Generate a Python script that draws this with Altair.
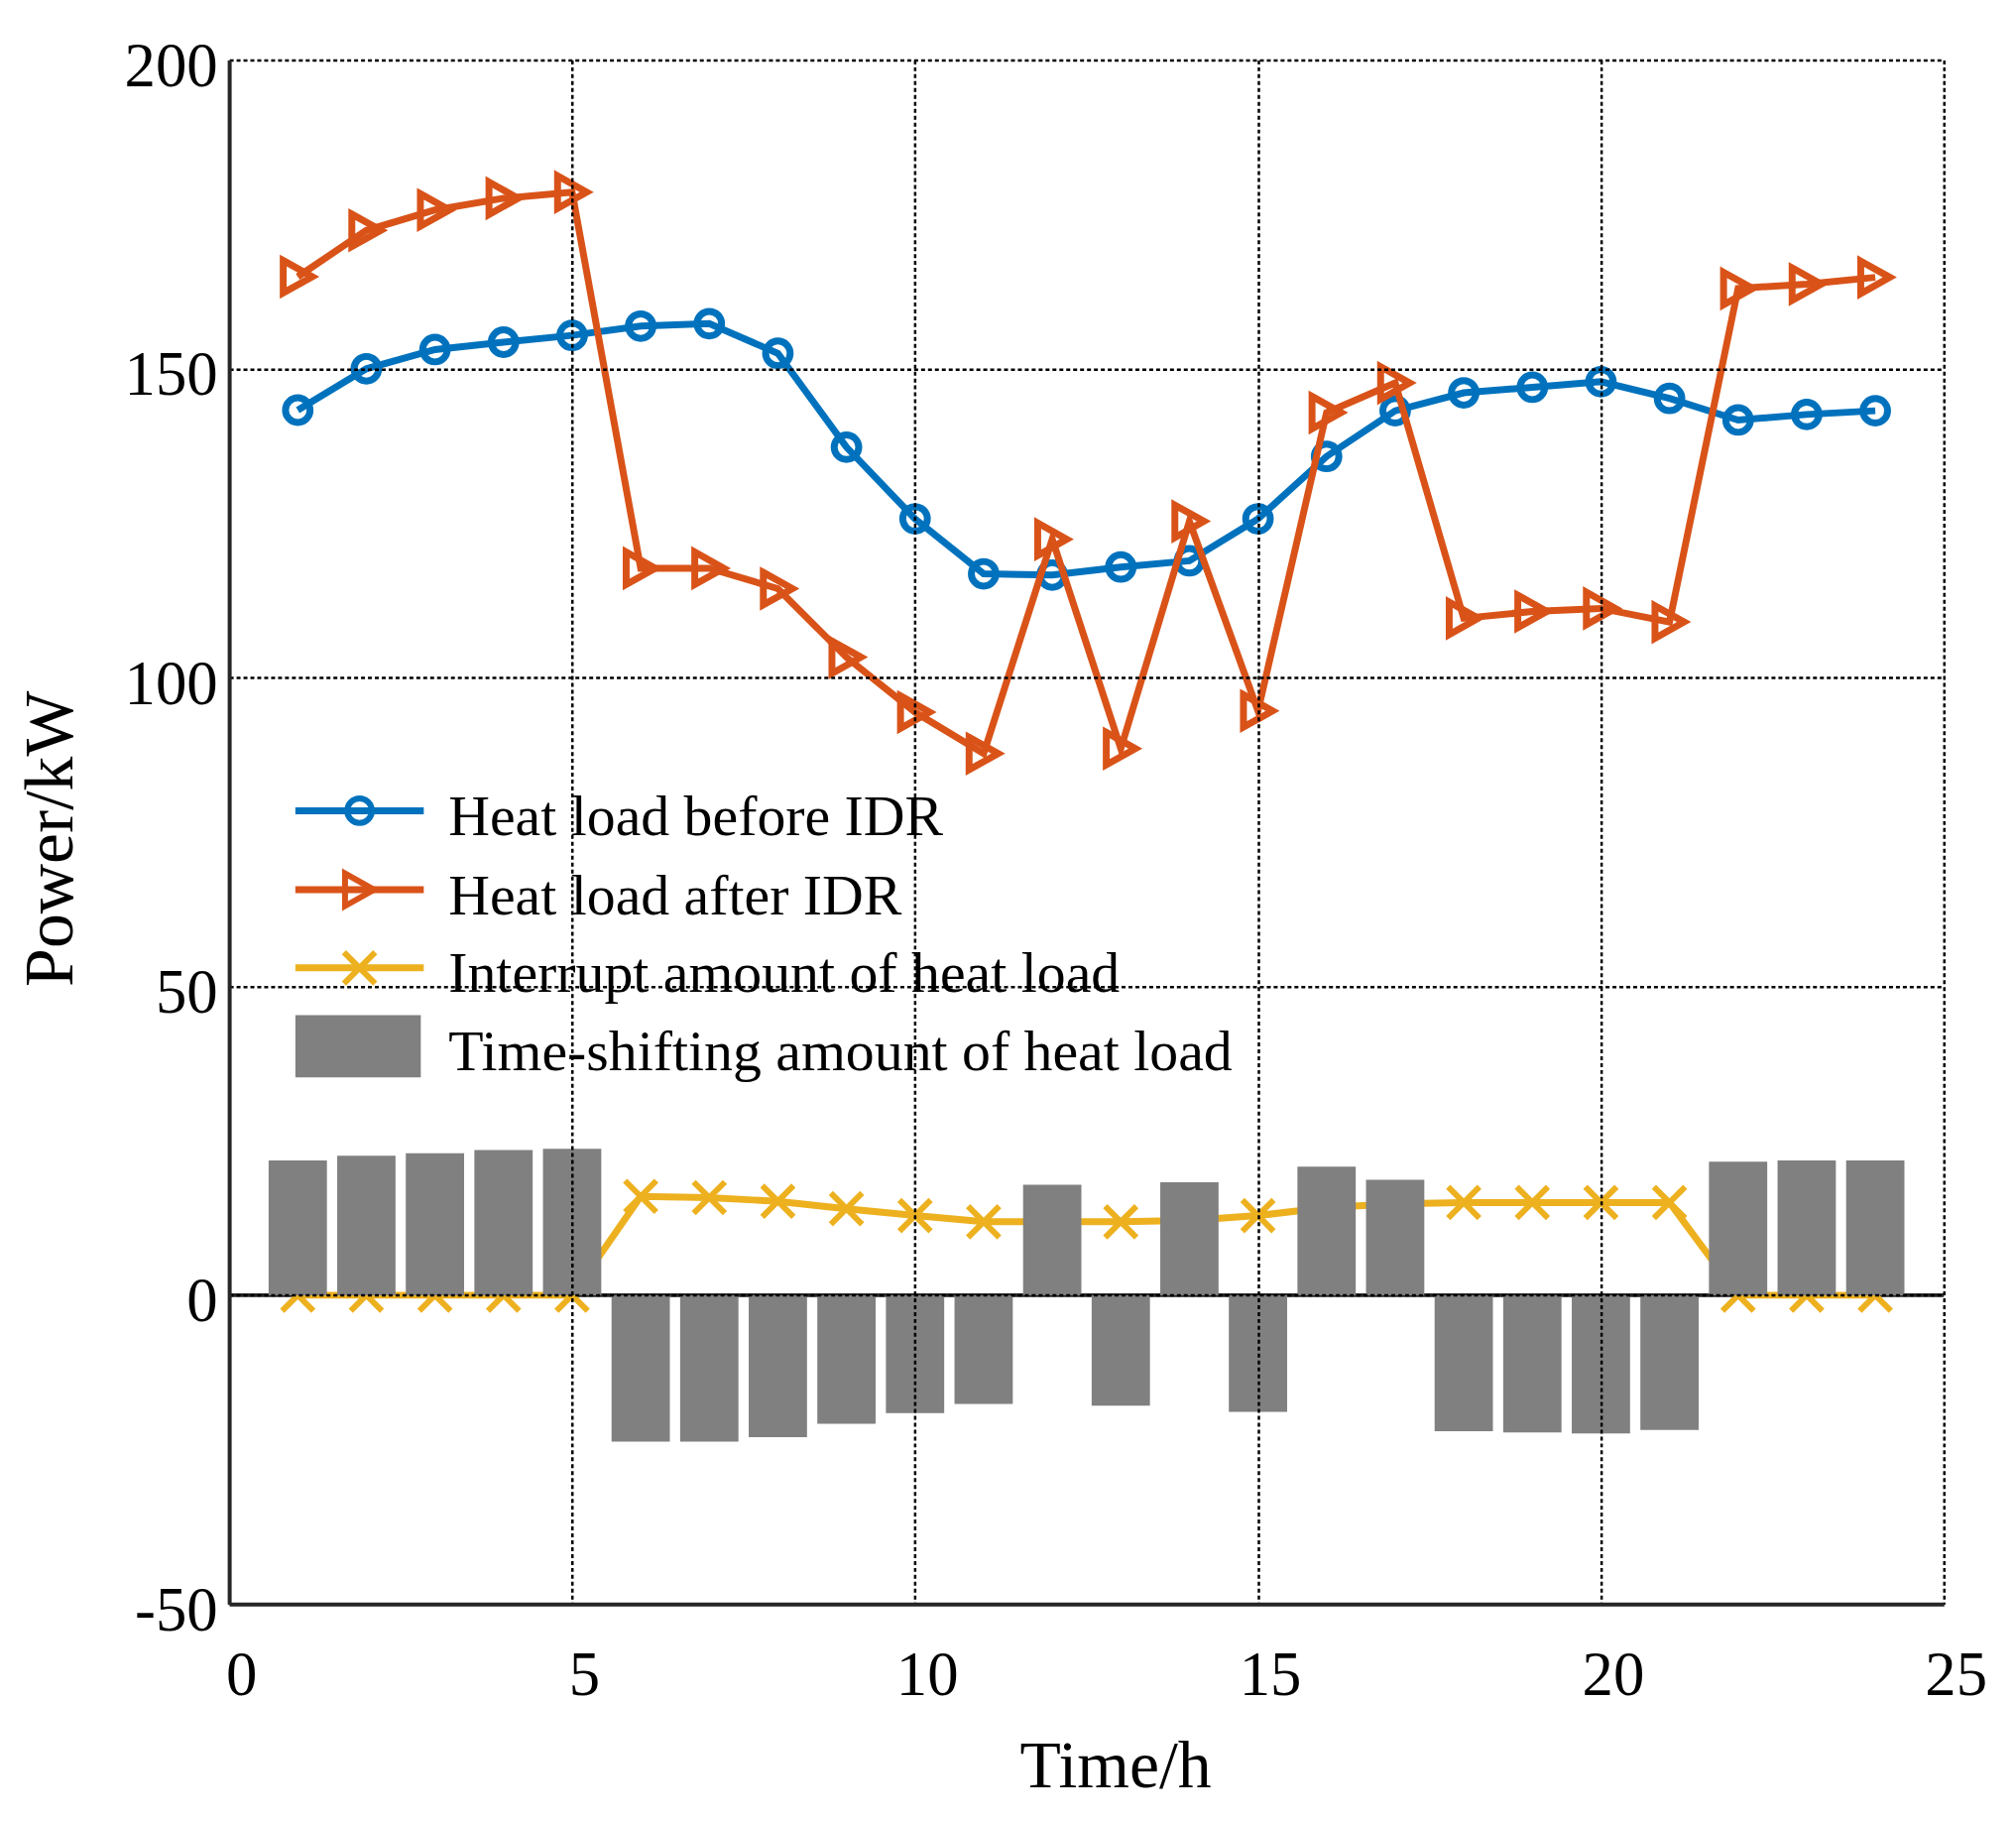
import altair as alt
import pandas as pd

# hourly values
hours = list(range(1, 25))
before_idr = [143.3, 150.0, 153.1, 154.3, 155.4, 156.9, 157.3, 152.5, 137.3, 125.7,
              116.8, 116.6, 117.9, 118.9, 125.7, 135.8, 143.2, 146.1, 147.0, 147.9,
              145.2, 141.7, 142.6, 143.2]
after_idr = [164.9, 172.4, 175.7, 177.6, 178.6, 117.7, 117.7, 114.4, 103.3, 94.4,
             87.7, 122.4, 88.5, 125.3, 94.6, 142.9, 147.7, 109.6, 110.7, 111.2,
             109.0, 163.0, 163.7, 164.8]
interrupt = [0, 0, 0, 0, 0, 16.0, 15.8, 15.2, 14.0, 12.9,
             11.9, 11.9, 11.9, 12.1, 12.9, 14.2, 14.8, 15.0, 15.0, 15.0,
             15.0, 0, 0, 0]
shifting = [21.8, 22.6, 23.0, 23.5, 23.7, -23.7, -23.7, -23.0, -20.8, -19.1,
            -17.6, 17.9, -17.9, 18.3, -18.9, 20.8, 18.7, -22.0, -22.2, -22.4,
            -21.8, 21.6, 21.8, 21.8]

legend_labels = ["Heat load before IDR", "Heat load after IDR",
                 "Interrupt amount of heat load", "Time-shifting amount of heat load"]

x_ticks = [0, 5, 10, 15, 20, 25]
y_ticks = [-50, 0, 50, 100, 150, 200]

BLUE = "#0072BD"
ORANGE = "#D95319"
YELLOW = "#EDB120"
GRAY = "#808080"
FONT = "Liberation Serif"

X_SHAPE = "M-1,-1L1,1M-1,1L1,-1"
TRI_SHAPE = "M-0.85,-0.95L0.85,0L-0.85,0.95Z"

df = pd.DataFrame({
    "hour": hours,
    "before": before_idr,
    "after": after_idr,
    "interrupt": interrupt,
    "shift": shifting,
})

x_enc = alt.X(
    "hour:Q",
    scale=alt.Scale(domain=[0, 25], nice=False),
    axis=alt.Axis(
        values=x_ticks, title="Time/h", grid=True, zindex=1,
        labelExpr="'' + datum.value",
        gridColor="#000000", gridDash=[4, 3], gridWidth=2.5, gridOpacity=1,
        domainColor="#262626", domainWidth=4, ticks=False,
        labelFont=FONT, labelFontSize=63, labelColor="#000000",
        labelPadding=42, labelOffset=12, labelFlush=False,
        titleFont=FONT, titleFontSize=68, titleFontWeight="normal",
        titleColor="#000000", titleX=897, titleY=185,
        titleBaseline="alphabetic", titleAlign="center",
    ),
)
y_scale = alt.Scale(domain=[-50, 200], nice=False)
y_axis = alt.Axis(
    values=y_ticks, title="Power/kW", grid=True, zindex=1,
    gridColor="#000000", gridDash=[4, 3], gridWidth=2.5, gridOpacity=1,
    domainColor="#262626", domainWidth=4, ticks=False,
    labelFont=FONT, labelFontSize=63, labelColor="#000000",
    labelPadding=12, labelOffset=7, labelFlush=False,
    labelExpr="'' + datum.value",
    titleFont=FONT, titleFontSize=70, titleFontWeight="normal",
    titleColor="#000000", titleX=-159, titleY=788,
    titleBaseline="alphabetic", titleAlign="center", titleAngle=-90,
)

base = alt.Chart(df)

zero_rule = alt.Chart(pd.DataFrame({"y": [0]})).mark_rule(
    color="#262626", strokeWidth=4
).encode(y=alt.Y("y:Q", scale=y_scale, axis=y_axis))

interrupt_line = base.mark_line(color=YELLOW, strokeWidth=7).encode(
    x=x_enc, y=alt.Y("interrupt:Q", scale=y_scale)
)
interrupt_pts = base.mark_point(
    shape=X_SHAPE, filled=False, color=YELLOW, strokeWidth=6, size=1000, opacity=1
).encode(x="hour:Q", y=alt.Y("interrupt:Q", scale=y_scale))

bars = base.transform_calculate(
    x0="datum.hour - 0.425", x1="datum.hour + 0.425"
).mark_bar(color=GRAY, opacity=1).encode(
    x="x0:Q", x2="x1:Q",
    y=alt.Y("shift:Q", scale=y_scale), y2=alt.datum(0),
)

before_line = base.mark_line(color=BLUE, strokeWidth=7).encode(
    x="hour:Q", y=alt.Y("before:Q", scale=y_scale)
)
before_pts = base.mark_point(
    shape="circle", filled=False, color=BLUE, strokeWidth=7, size=620, opacity=1
).encode(x="hour:Q", y=alt.Y("before:Q", scale=y_scale))

after_line = base.mark_line(color=ORANGE, strokeWidth=7).encode(
    x="hour:Q", y=alt.Y("after:Q", scale=y_scale)
)
after_pts = base.mark_point(
    shape=TRI_SHAPE, filled=False, color=ORANGE, strokeWidth=7, size=1200, opacity=1
).encode(x="hour:Q", y=alt.Y("after:Q", scale=y_scale))

# hand-built legend inside the plot area
legend_layers = []
line_rows = [(BLUE, "circle", 620, 760, 785),
             (ORANGE, TRI_SHAPE, 1200, 840, 865),
             (YELLOW, X_SHAPE, 1000, 919, 943)]
for i, (col, shp, sz, ly, ty) in enumerate(line_rows):
    one = alt.Chart(pd.DataFrame({"label": [legend_labels[i]]}))
    legend_layers.append(one.mark_rule(color=col, strokeWidth=7).encode(
        x=alt.value(67), x2=alt.value(197), y=alt.value(ly)))
    legend_layers.append(one.mark_point(
        shape=shp, filled=False, color=col, strokeWidth=6, size=sz, opacity=1
    ).encode(x=alt.value(132), y=alt.value(ly)))
    legend_layers.append(one.mark_text(
        font=FONT, fontSize=58, align="left", baseline="alphabetic", color="#000000"
    ).encode(x=alt.value(222), y=alt.value(ty), text="label:N"))

box = alt.Chart(pd.DataFrame({"label": [legend_labels[3]]}))
legend_layers.append(box.mark_rect(color=GRAY).encode(
    x=alt.value(67), x2=alt.value(194), y=alt.value(967), y2=alt.value(1030)))
legend_layers.append(box.mark_text(
    font=FONT, fontSize=58, align="left", baseline="alphabetic", color="#000000"
).encode(x=alt.value(222), y=alt.value(1023), text="label:N"))

chart = alt.layer(
    zero_rule, interrupt_line, interrupt_pts, bars,
    before_line, before_pts, after_line, after_pts,
    *legend_layers,
).properties(
    width=1736, height=1563,
    autosize=alt.AutoSizeParams(type="none"),
    padding={"left": 224, "top": 49, "right": 65, "bottom": 217},
    background="white",
).configure_view(stroke=None)

chart.save("out.html", embed_options={"renderer": "svg", "actions": False})
